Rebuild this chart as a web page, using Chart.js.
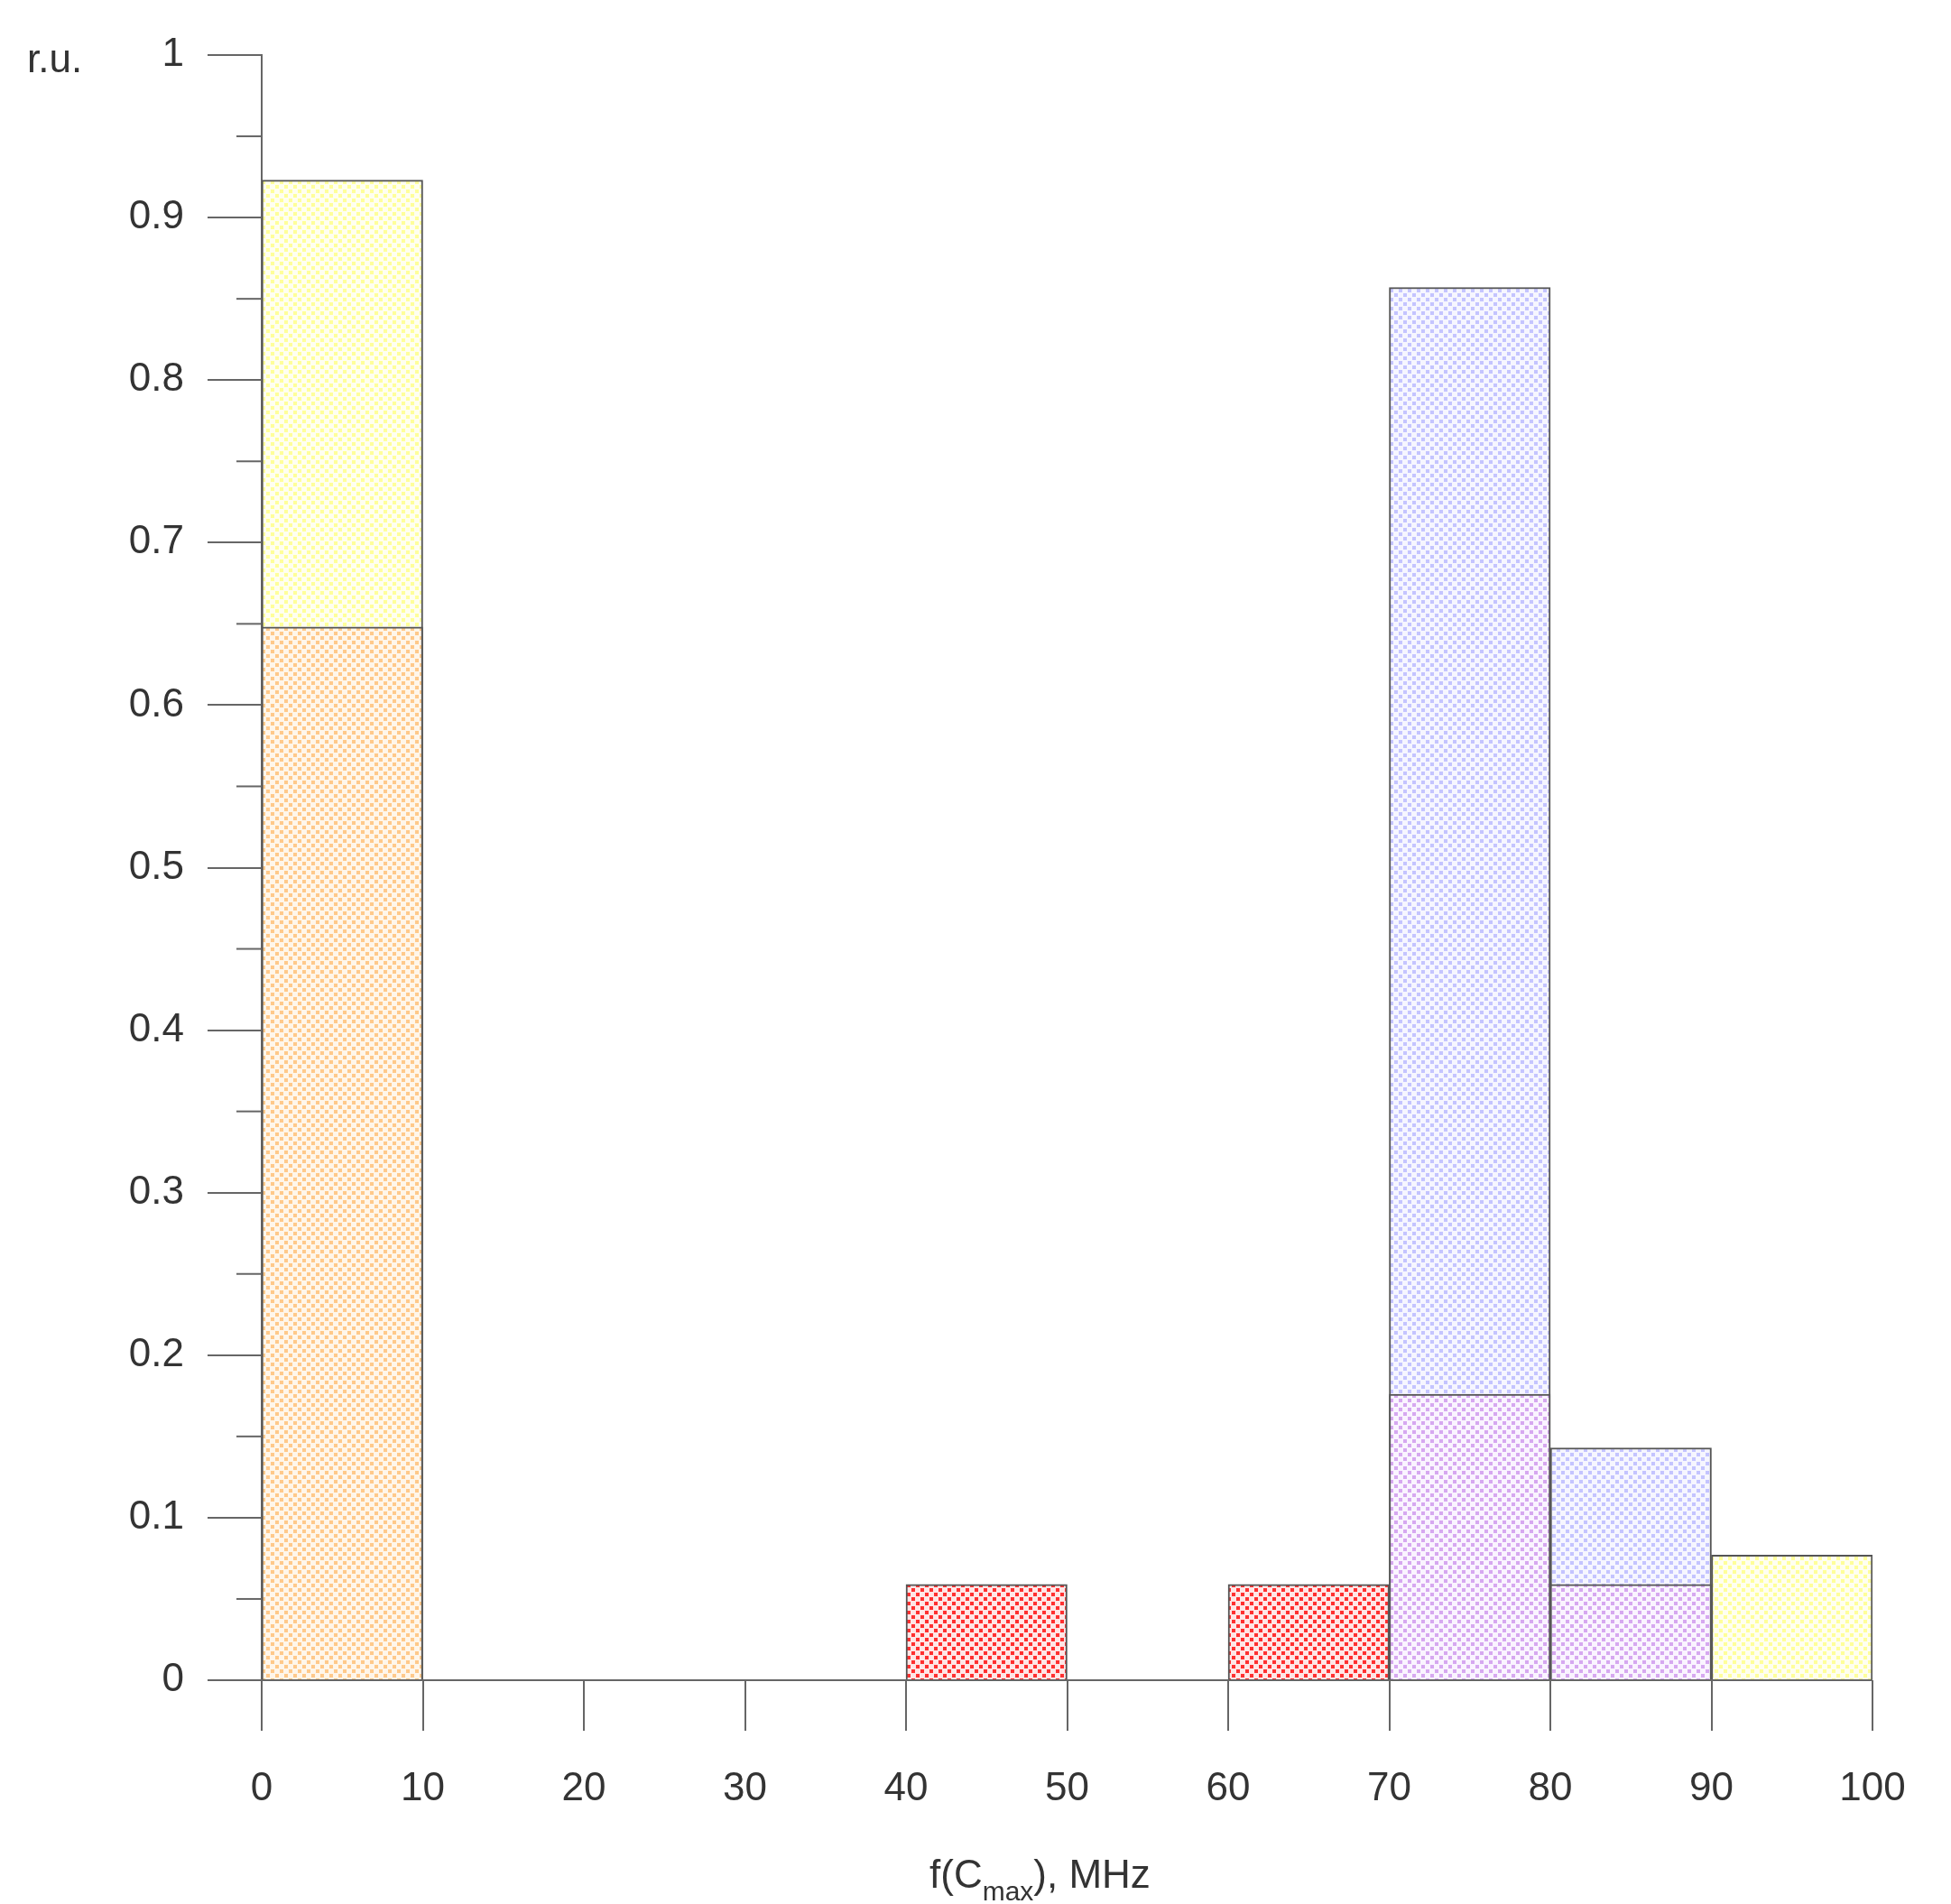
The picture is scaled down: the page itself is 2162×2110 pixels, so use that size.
<!DOCTYPE html>
<html>
<head>
<meta charset="utf-8">
<script src="https://cdn.jsdelivr.net/npm/chart.js@4.4.0/dist/chart.umd.min.js"></script>
<style>
  html, body { margin: 0; padding: 0; background: #fff; }
  #wrap { width: 2162px; height: 2110px; }
</style>
</head>
<body>
<div id="wrap"><canvas id="hist" width="2162" height="2110"></canvas></div>
<script>
// Bin centres (MHz), bins are 10 MHz wide
const binCenters = [5, 15, 25, 35, 45, 55, 65, 75, 85, 95];
const xTicks = [0, 10, 20, 30, 40, 50, 60, 70, 80, 90, 100];
const yTicks = [0, 0.1, 0.2, 0.3, 0.4, 0.5, 0.6, 0.7, 0.8, 0.9, 1];

// Overlaid histogram parts, r.u.
const yellowValues = [0.923, null, null, null, null, null, null, null, null, 0.077];
const blueValues   = [null, null, null, null, null, null, null, 0.857, 0.143, null];
const orangeValues = [0.648, null, null, null, null, null, null, null, null, null];
const purpleValues = [null, null, null, null, null, null, null, 0.176, 0.059, null];
const redValues    = [null, null, null, null, 0.059, null, 0.059, null, null, null];

// Dotted cross-hatch fill like the original plot
function makePattern(dot, bg) {
    const c = document.createElement('canvas');
    c.width = 10; c.height = 10;
    const g = c.getContext('2d');
    g.fillStyle = bg;
    g.fillRect(0, 0, 10, 10);
    g.fillStyle = dot;
    g.fillRect(0, 0, 4, 4);
    g.fillRect(5, 5, 4, 4);
    return g.createPattern(c, 'repeat');
}

function toPoints(values) {
    return binCenters.map((x, i) => ({ x: x, y: values[i] }));
}

function barSet(label, values, fill, order) {
    return {
        label: label,
        data: toPoints(values),
        backgroundColor: fill,
        borderColor: '#555',
        borderWidth: { top: 2, left: 2, right: 2, bottom: 0 },
        borderSkipped: 'bottom',
        barPercentage: 1,
        categoryPercentage: 1,
        grouped: false,
        order: order
    };
}

// Extra axis decorations: minor ticks, axis extension, titles
const decorPlugin = {
    id: 'decor',
    afterDraw(chart) {
        const ctx = chart.ctx;
        const x = chart.scales.x, y = chart.scales.y;
        const left = chart.chartArea.left;
        ctx.save();
        ctx.strokeStyle = '#666';
        ctx.lineWidth = 2;
        // minor y ticks
        for (let i = 0; i < yTicks.length - 1; i++) {
            const py = y.getPixelForValue((yTicks[i] + yTicks[i + 1]) / 2);
            ctx.beginPath();
            ctx.moveTo(left - 28, py);
            ctx.lineTo(left, py);
            ctx.stroke();
        }
        // zero line across full width
        const p0 = y.getPixelForValue(0);
        ctx.beginPath();
        ctx.moveTo(left - 60, p0);
        ctx.lineTo(x.getPixelForValue(100), p0);
        ctx.stroke();

        ctx.fillStyle = '#333';
        ctx.font = '44px "Liberation Sans", Arial, sans-serif';
        ctx.textBaseline = 'alphabetic';
        ctx.textAlign = 'left';
        ctx.fillText('r.u.', 30, 80);

        // x axis title with subscript
        let tx = 1030;
        const ty = 2092;
        ctx.fillText('f(C', tx, ty);
        tx += ctx.measureText('f(C').width;
        ctx.font = '30px "Liberation Sans", Arial, sans-serif';
        ctx.fillText('max', tx, ty + 14);
        tx += ctx.measureText('max').width;
        ctx.font = '44px "Liberation Sans", Arial, sans-serif';
        ctx.fillText('), MHz', tx, ty);
        ctx.restore();
    }
};

new Chart(document.getElementById('hist').getContext('2d'), {
    type: 'bar',
    data: {
        datasets: [
            barSet('yellow', yellowValues, makePattern('#ffff9a', '#fffff0'), 5),
            barSet('blue', blueValues, makePattern('#c4c4ff', '#f6f6ff'), 4),
            barSet('orange', orangeValues, makePattern('#ffc98a', '#fff6ea'), 3),
            barSet('purple', purpleValues, makePattern('#d6a8f0', '#faf4ff'), 2),
            barSet('red', redValues, makePattern('#ff3030', '#ffe6e6'), 1)
        ]
    },
    options: {
        responsive: false,
        animation: false,
        layout: { padding: { top: 61, right: 87, left: 0, bottom: 0 } },
        plugins: { legend: { display: false }, tooltip: { enabled: false } },
        scales: {
            x: {
                type: 'linear',
                min: 0,
                max: 100,
                offset: false,
                afterFit(s) { s.height = 248; },
                afterBuildTicks(s) { s.ticks = xTicks.map(v => ({ value: v })); },
                grid: { offset: false, drawOnChartArea: false, tickLength: 56, color: '#666', lineWidth: 2 },
                border: { display: false },
                ticks: {
                    padding: 38,
                    color: '#333',
                    font: { size: 44, family: '"Liberation Sans", Arial, sans-serif' }
                }
            },
            y: {
                min: 0,
                max: 1,
                afterFit(s) { s.width = 290; },
                afterBuildTicks(s) { s.ticks = yTicks.map(v => ({ value: v })); },
                grid: { drawOnChartArea: false, tickLength: 60, color: '#666', lineWidth: 2 },
                border: { display: true, color: '#666', width: 2 },
                ticks: {
                    padding: 26,
                    color: '#333',
                    font: { size: 44, family: '"Liberation Sans", Arial, sans-serif' },
                    callback: v => String(Math.round(v * 10) / 10)
                }
            }
        }
    },
    plugins: [decorPlugin]
});
</script>
</body>
</html>
